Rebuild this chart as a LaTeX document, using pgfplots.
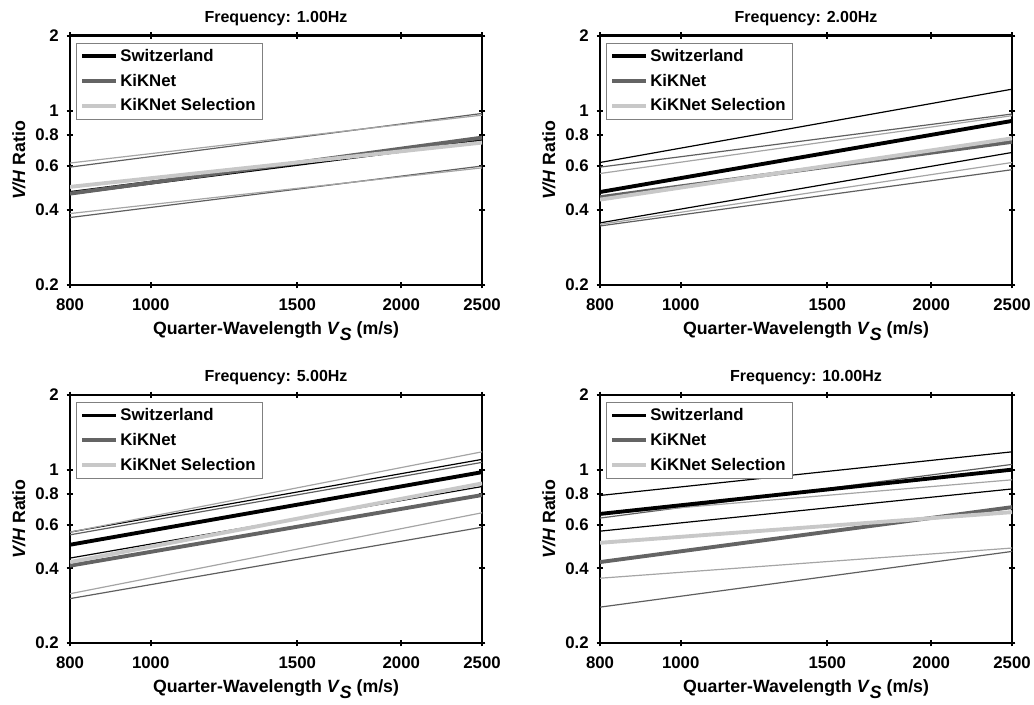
\documentclass[border=0pt]{standalone}
\usepackage{pgfplots}
\pgfplotsset{compat=1.18}
\usepackage{fontspec}
\setmainfont{Liberation Sans}
\definecolor{kik}{RGB}{100,100,100}
\definecolor{sel}{RGB}{200,200,200}
\definecolor{kikthin}{RGB}{95,95,95}
\definecolor{selthin}{RGB}{165,165,165}
\pgfplotsset{
  myaxis/.style={
    scale only axis, width=309pt, height=187pt,
    xmin=800, xmax=2500, ymin=0.2, ymax=2,
    xtick={800,1000,1500,2000,2500}, xticklabels={800,1000,1500,2000,2500},
    ytick={0.2,0.4,0.6,0.8,1,2}, yticklabels={0.2,0.4,0.6,0.8,1,2},
    minor xtick={}, minor ytick={},
    axis line style={line width=2pt},
    tick style={line width=1.3pt, black},
    tick align=center, major tick length=5pt,
    /pgf/number format/assume math mode=true,
    tick label style={font=\bfseries\fontsize{12.6}{14}\selectfont},
    xticklabel style={yshift=-4pt},
    yticklabel style={xshift=-2.5pt},
    label style={font=\bfseries\fontsize{13.3}{15}\selectfont},
    title style={at={(0.5,1)}, anchor=base, yshift=4.2pt, font=\bfseries\fontsize{12}{14}\selectfont},
    xlabel={Quarter-Wavelength \textit{V}\raisebox{-0.65ex}{\textit{S}} (m/s)},
    ylabel={\textit{V/H} Ratio},
    xlabel style={at={(axis description cs:0.5,-0.2)}, anchor=base},
    ylabel style={at={(axis description cs:-0.124,0.5)}, anchor=center},
    legend style={at={(axis description cs:0.0146,0.972)}, anchor=north west,
      draw=gray, line width=0.6pt, font=\bfseries\fontsize{12.6}{14}\selectfont,
      row sep=4pt, inner xsep=3pt, inner ysep=2.5pt},
    legend cell align=left,
    legend image code/.code={\draw[##1] (0pt,0pt) -- (25pt,0pt);},
  },
  swM/.style={black, line width=2.9pt},
  swT/.style={black, line width=0.9pt, forget plot},
  kkM/.style={kik, line width=2.9pt},
  kkT/.style={kikthin, line width=0.9pt, forget plot},
  seM/.style={sel, line width=2.9pt},
  seT/.style={selthin, line width=0.9pt, forget plot},
}
\begin{document}
\begin{tikzpicture}
\useasboundingbox (0,0) rectangle (775.5pt,528pt);
% ---------- 1 Hz ----------
\begin{loglogaxis}[myaxis, at={(52.5pt,314.25pt)}, anchor=south west, title={Frequency: 1.00Hz}]
\addplot[kkT] coordinates {(800,0.594) (2500,0.975)};
\addplot[kkT] coordinates {(800,0.373) (2500,0.600)};
\addplot[seT] coordinates {(800,0.617) (2500,0.960)};
\addplot[seT] coordinates {(800,0.387) (2500,0.590)};
\addplot[swM] coordinates {(800,0.468) (2500,0.760)};
\addlegendentry{Switzerland}
\addplot[kkM] coordinates {(800,0.465) (2500,0.780)};
\addlegendentry{KiKNet}
\addplot[seM] coordinates {(800,0.495) (2500,0.745)};
\addlegendentry{KiKNet Selection}
\end{loglogaxis}
% ---------- 2 Hz ----------
\begin{loglogaxis}[myaxis, at={(450pt,314.25pt)}, anchor=south west, title={Frequency: 2.00Hz}]
\addplot[swT] coordinates {(800,0.620) (2500,1.220)};
\addplot[swT] coordinates {(800,0.355) (2500,0.680)};
\addplot[kkT] coordinates {(800,0.594) (2500,0.970)};
\addplot[kkT] coordinates {(800,0.345) (2500,0.580)};
\addplot[seT] coordinates {(800,0.560) (2500,0.955)};
\addplot[seT] coordinates {(800,0.350) (2500,0.620)};
\addplot[swM] coordinates {(800,0.472) (2500,0.910)};
\addlegendentry{Switzerland}
\addplot[kkM] coordinates {(800,0.450) (2500,0.750)};
\addlegendentry{KiKNet}
\addplot[seM] coordinates {(800,0.440) (2500,0.775)};
\addlegendentry{KiKNet Selection}
\end{loglogaxis}
% ---------- 5 Hz ----------
\begin{loglogaxis}[myaxis, height=186pt, at={(52.5pt,45.75pt)}, anchor=south west, title={Frequency: 5.00Hz}]
\addplot[swT] coordinates {(800,0.560) (2500,1.100)};
\addplot[swT] coordinates {(800,0.440) (2500,0.855)};
\addplot[kkT] coordinates {(800,0.546) (2500,1.070)};
\addplot[kkT] coordinates {(800,0.302) (2500,0.586)};
\addplot[seT] coordinates {(800,0.560) (2500,1.180)};
\addplot[seT] coordinates {(800,0.316) (2500,0.670)};
\addplot[swM] coordinates {(800,0.498) (2500,0.977)};
\addlegendentry{Switzerland}
\addplot[kkM] coordinates {(800,0.410) (2500,0.790)};
\addlegendentry{KiKNet}
\addplot[seM] coordinates {(800,0.424) (2500,0.880)};
\addlegendentry{KiKNet Selection}
\end{loglogaxis}
% ---------- 10 Hz ----------
\begin{loglogaxis}[myaxis, height=186pt, at={(450pt,45.75pt)}, anchor=south west, title={Frequency: 10.00Hz}]
\addplot[swT] coordinates {(800,0.787) (2500,1.180)};
\addplot[swT] coordinates {(800,0.565) (2500,0.836)};
\addplot[kkT] coordinates {(800,0.638) (2500,1.050)};
\addplot[kkT] coordinates {(800,0.279) (2500,0.468)};
\addplot[seT] coordinates {(800,0.660) (2500,0.910)};
\addplot[seT] coordinates {(800,0.365) (2500,0.483)};
\addplot[swM] coordinates {(800,0.663) (2500,1.000)};
\addlegendentry{Switzerland}
\addplot[kkM] coordinates {(800,0.424) (2500,0.706)};
\addlegendentry{KiKNet}
\addplot[seM] coordinates {(800,0.507) (2500,0.674)};
\addlegendentry{KiKNet Selection}
\end{loglogaxis}
\end{tikzpicture}
\end{document}
